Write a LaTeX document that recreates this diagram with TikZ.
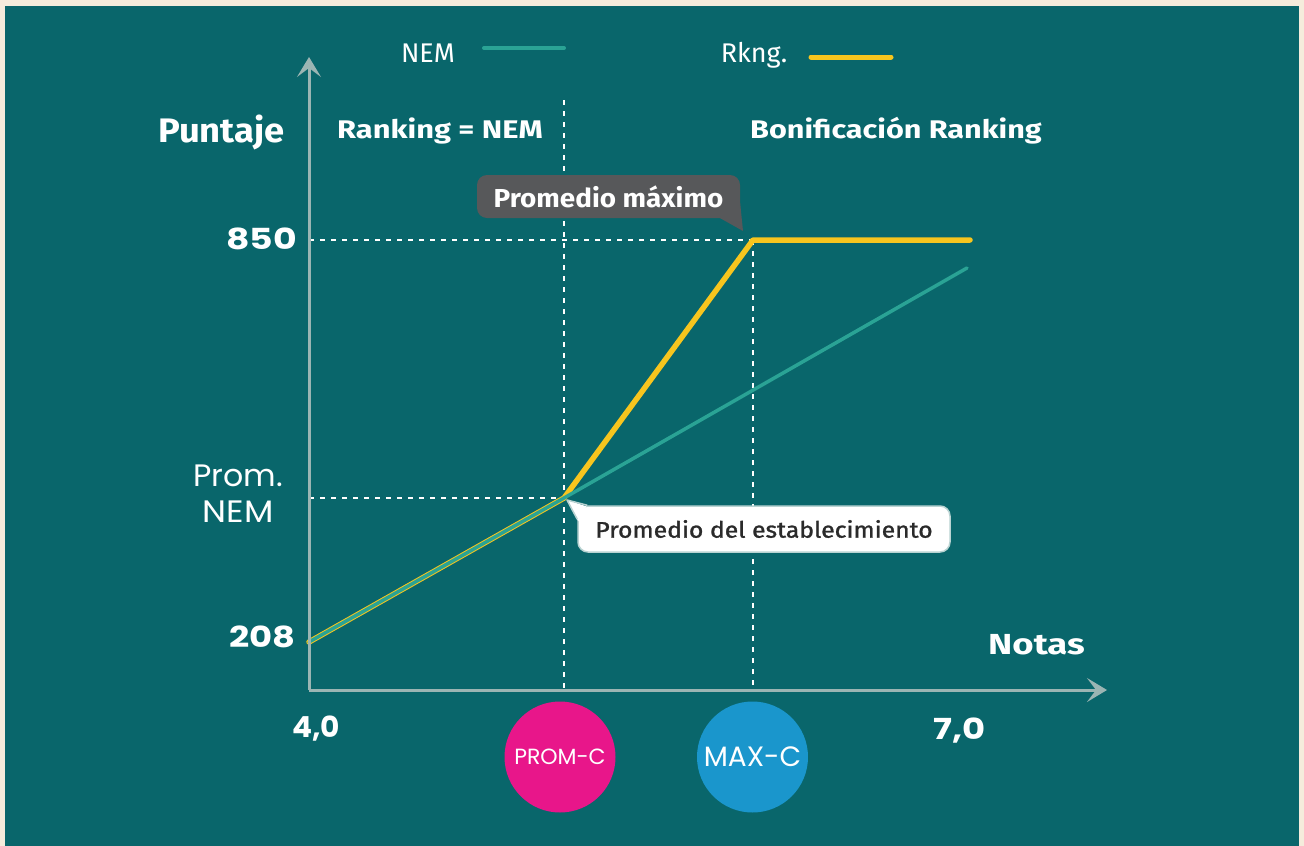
\documentclass[tikz,border=0pt]{standalone}
\usepackage{fontspec}
\setmainfont{Fira Sans}
\newfontfamily\pop{Poppins}
\newfontfamily\firamed[FakeBold=1.2]{Fira Sans}
\usetikzlibrary{arrows.meta}
\newcommand{\hs}[2]{\scalebox{#1}[1]{#2}}
\definecolor{cream}{HTML}{F5ECDC}
\definecolor{panel}{HTML}{09666B}
\definecolor{axisgray}{HTML}{9BB5B3}
\definecolor{nemteal}{HTML}{2AA395}
\definecolor{rkyellow}{HTML}{F7C51E}
\definecolor{calldark}{HTML}{57585A}
\definecolor{callline}{HTML}{B9D3D2}
\definecolor{txtdark}{HTML}{2A2A2A}
\definecolor{pink}{HTML}{E8168A}
\definecolor{blue}{HTML}{1A96CC}
\tikzset{
  axisline/.style={draw=axisgray, line width=3pt, -{Stealth[length=20pt,width=24pt,inset=9pt]}},
  guide/.style={draw=white, line width=2pt, dash pattern=on 5pt off 6pt},
  lbl/.style={text=white, inner sep=0pt, font=\fontsize{25.5}{30}\selectfont\bfseries},
  num/.style={text=white, inner sep=0pt, font=\pop\fontsize{29}{34}\selectfont\bfseries},
  badge/.style={circle, minimum size=111pt, inner sep=0pt, text=white, font=\pop\fontsize{22}{26}\selectfont},
  nemline/.style={draw=nemteal, line width=3.5pt, line cap=round},
  rkline/.style={draw=rkyellow, line width=5.5pt, line join=round, line cap=round},
}
\begin{document}
\begin{tikzpicture}[x=1pt,y=-1pt]
\fill[cream] (0,0) rectangle (1304,846);
\fill[panel] (5,6) rectangle (1299,846);
\useasboundingbox (0,0) rectangle (1304,846);

% coordinates
\coordinate (O) at (309,690);
\coordinate (ytip) at (309,57);
\coordinate (xtip) at (1107,690);
\coordinate (start) at (309,642);
\coordinate (prom) at (564,498);
\coordinate (max) at (753,240);
\coordinate (rkend) at (970,240);
\coordinate (nemend) at (967,268);
\coordinate (y850) at (309,240);
\coordinate (yprom) at (309,498);
\coordinate (vtop) at (564,100);
\coordinate (vbot1) at (564,690);
\coordinate (vbot2) at (753,690);

% guides
\draw[guide] (y850) -- (max);
\draw[guide] (yprom) -- (prom);
\draw[guide] (vtop) -- (vbot1);
\draw[guide] (max) -- (vbot2);

% data lines
\draw[rkline] (start) -- (prom) -- (max) -- (rkend);
\draw[nemline] (start) -- (prom) -- (nemend);

% axes
\draw[axisline] (O) -- (ytip);
\draw[axisline] (O) -- (xtip);

% legend
\node[text=white, inner sep=0pt, anchor=base, font=\fontsize{27}{30}\selectfont] (legnem) at (428,62) {NEM};
\coordinate (ln1) at (484,48);
\coordinate (ln2) at (564,48);
\draw[nemline, line width=4pt] (ln1) -- (ln2);
\node[text=white, inner sep=0pt, anchor=base, font=\fontsize{27}{30}\selectfont] (legrk) at (754,62) {Rkng.};
\coordinate (lr1) at (811,57);
\coordinate (lr2) at (891,57);
\draw[rkline, line width=5pt] (lr1) -- (lr2);

% labels
\node[lbl, anchor=base west, font=\fontsize{34}{38}\selectfont\bfseries] (puntaje) at (158,142) {\hs{1.07}{Puntaje}};
\node[lbl, anchor=base west] (rknem) at (337,138.5) {\hs{1.21}{Ranking = NEM}};
\node[lbl, anchor=base west] (bonif) at (750,138.5) {\hs{1.2}{Bonificación Ranking}};
\node[lbl, anchor=base west, font=\fontsize{29}{34}\selectfont\bfseries] (notas) at (988,654) {\hs{1.26}{Notas}};

\node[num, anchor=base east] (n850) at (297,249) {\hs{1.25}{850}};
\node[num, anchor=base east] (n208) at (296,647) {\hs{1.22}{208}};
\node[num, anchor=base] (n40) at (316,737) {\hs{1.02}{4,0}};
\node[num, anchor=base] (n70) at (959.5,739) {\hs{1.22}{7,0}};
\node[text=white, inner sep=0pt, align=center, font=\pop\fontsize{31}{36}\selectfont, anchor=base] (promnem) at (238,522) {\hs{1.02}{Prom.}\\\hs{1.1}{NEM}};

% callout: promedio maximo
\node[fill=calldark, rounded corners=10pt, minimum width=263pt, minimum height=43pt, inner sep=0pt,
      text=white, font=\fontsize{26}{30}\selectfont\bfseries] (cmax) at (608.5,196.5) {\hs{1.07}{Promedio máximo}};
\coordinate (tmax) at (743,231);
\fill[calldark] ([xshift=-20pt]cmax.south east) -- (tmax) -- ([yshift=15pt]cmax.south east) -- cycle;

% callout: promedio del establecimiento
\coordinate (tprom) at (567,500);
\node[fill=white, draw=callline, line width=1.5pt, rounded corners=10pt, minimum width=372pt, minimum height=46pt, inner sep=0pt,
      text=txtdark, font=\firamed\fontsize{22.5}{26}\selectfont] (cprom) at (764,529) {\hs{1.1}{Promedio del establecimiento}};
\fill[white] ([xshift=1pt,yshift=-16pt]cprom.north west) -- (tprom) -- ([xshift=9pt,yshift=-1pt]cprom.north west) -- cycle;
\draw[callline, line width=1.5pt, line join=round] ([yshift=-14pt]cprom.north west) -- (tprom) -- ([xshift=10pt]cprom.north west);

% badges
\node[badge, fill=pink] (promc) at (560,757) {PROM-C};
\node[badge, fill=blue, font=\pop\fontsize{28}{32}\selectfont] (maxc) at (752.5,757) {MAX-C};
\end{tikzpicture}
\end{document}
